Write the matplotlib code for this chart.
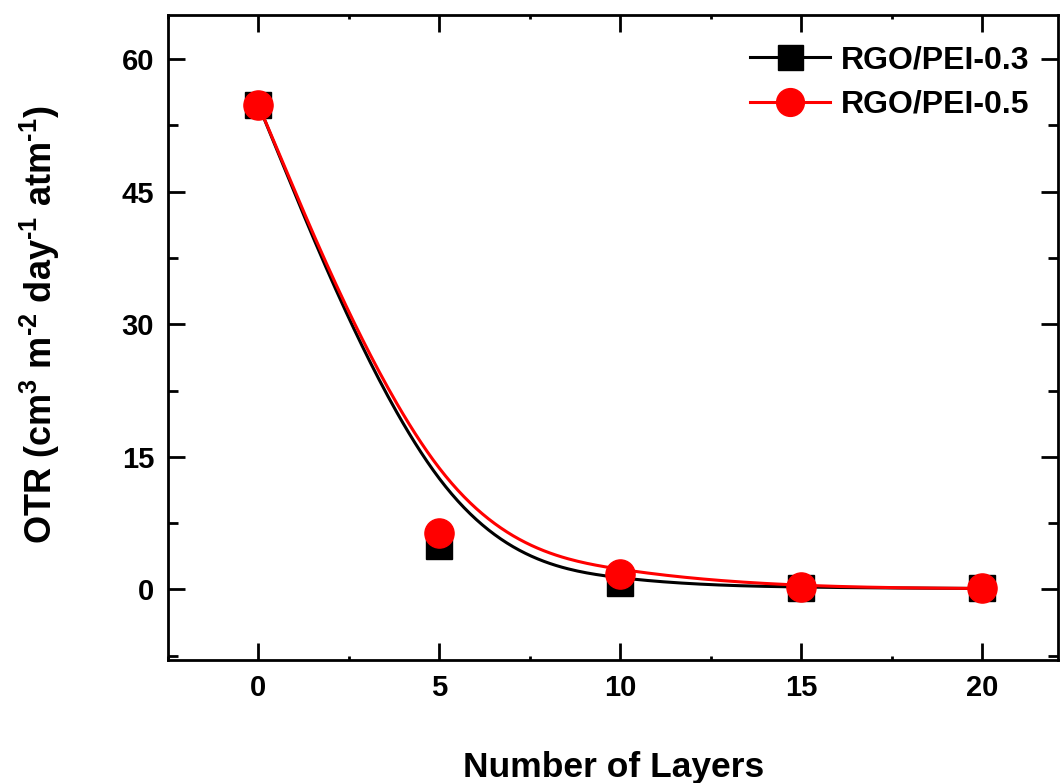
import matplotlib as mpl
mpl.use("Agg")
import matplotlib.pyplot as plt
from matplotlib.lines import Line2D
from matplotlib.ticker import MultipleLocator
import numpy as np

plt.rcParams['font.family'] = ['Liberation Sans', 'DejaVu Sans']
plt.rcParams['font.weight'] = 'bold'
plt.rcParams['mathtext.fontset'] = 'custom'
plt.rcParams['mathtext.rm'] = 'Liberation Sans:bold'
plt.rcParams['mathtext.default'] = 'rm'

layers = [0, 5, 10, 15, 20]
otr_03 = [54.8, 4.9, 0.7, 0.2, 0.1]
otr_05 = [54.8, 6.4, 1.75, 0.25, 0.1]
names = ["RGO/PEI-0.3", "RGO/PEI-0.5"]


def bspline(xs, ys, n=60):
    # uniform cubic B-spline, end points repeated so the curve starts/ends on them
    p = np.column_stack([xs, ys]).astype(float)
    p = np.vstack([p[:1], p[:1], p, p[-1:], p[-1:]])
    t = np.linspace(0, 1, n)
    b0 = (1 - t) ** 3 / 6
    b1 = (3 * t**3 - 6 * t**2 + 4) / 6
    b2 = (-3 * t**3 + 3 * t**2 + 3 * t + 1) / 6
    b3 = t**3 / 6
    out = []
    for i in range(len(p) - 3):
        seg = (np.outer(b0, p[i]) + np.outer(b1, p[i + 1])
               + np.outer(b2, p[i + 2]) + np.outer(b3, p[i + 3]))
        out.append(seg)
    out = np.vstack(out)
    return out[:, 0], out[:, 1]


fig = plt.figure(figsize=(10.6, 7.83), dpi=100)
ax = fig.add_axes([0.1585, 0.157, 0.84, 0.824])

cx, cy = bspline(layers, otr_03)
ax.plot(cx, cy, color='black', lw=2.2, zorder=2)
ax.plot(layers, otr_03, 's', color='black', ms=18.5, zorder=3)
cx, cy = bspline(layers, otr_05)
ax.plot(cx, cy, color='red', lw=2.2, zorder=4)
ax.plot(layers, otr_05, 'o', color='red', ms=21, zorder=5)

ax.set_xlim(-2.5, 22.1)
ax.set_ylim(-8, 65)
ax.xaxis.set_major_locator(MultipleLocator(5))
ax.xaxis.set_minor_locator(MultipleLocator(2.5))
ax.yaxis.set_major_locator(MultipleLocator(15))
ax.yaxis.set_minor_locator(MultipleLocator(7.5))
ax.tick_params(which='major', direction='in', length=12, width=2, labelsize=21, pad=10,
               top=True, right=True)
ax.tick_params(axis='y', which='minor', direction='in', length=7, width=2, right=True)
ax.tick_params(axis='x', which='minor', direction='in', length=3, width=2, top=True)
ax.tick_params(axis='x', which='major', top=True)
for s in ax.spines.values():
    s.set_linewidth(2)

ax.set_xlabel("Number of Layers", fontsize=25.5, fontweight='bold', labelpad=35)
ax.set_ylabel(r"OTR (cm$^{3}$ m$^{\text{-2}}$ day$^{\text{-1}}$ atm$^{\text{-1}}$)",
              fontsize=26, fontweight='bold')
ax.yaxis.set_label_coords(-0.119, 0.52)

handles = [
    Line2D([], [], color='black', lw=2.2, marker='s', ms=18),
    Line2D([], [], color='red', lw=2.2, marker='o', ms=20),
]
ax.legend(handles, names, loc='upper right', frameon=False, fontsize=23,
          handlelength=2.5, handletextpad=0.35, labelspacing=0.45,
          bbox_to_anchor=(1.0, 0.997))

fig.savefig("out.png", dpi=100)
